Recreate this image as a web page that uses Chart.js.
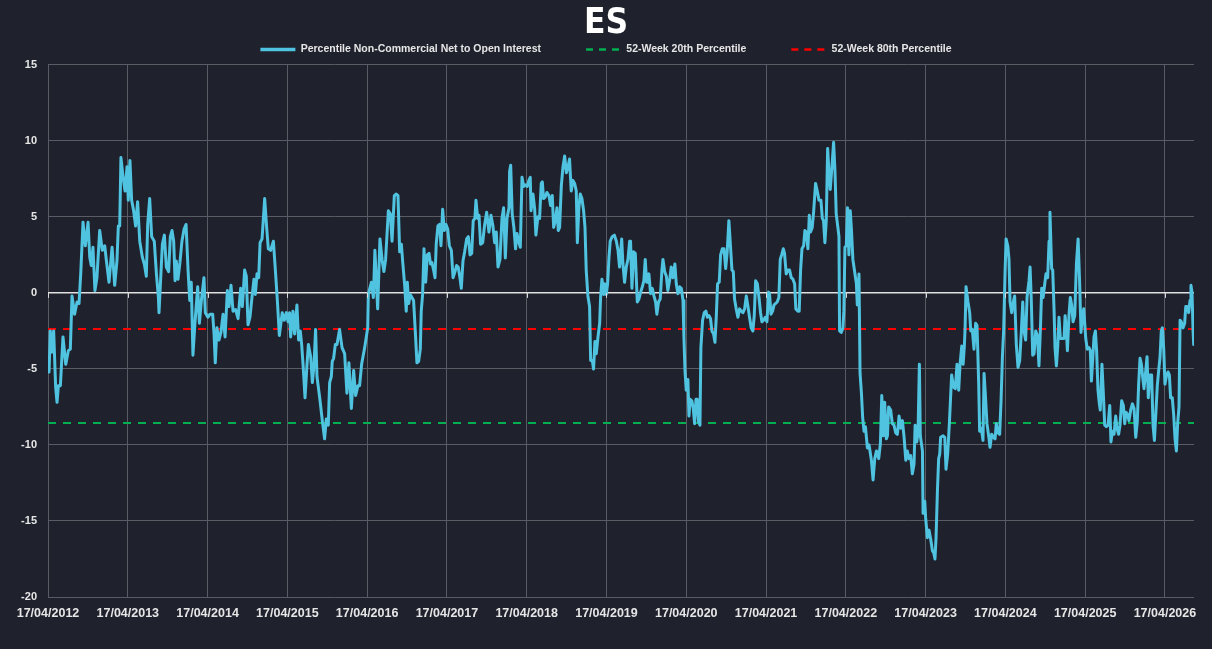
<!DOCTYPE html>
<html>
<head>
<meta charset="utf-8">
<title>ES</title>
<script src="https://cdn.jsdelivr.net/npm/chart.js@4.4.1/dist/chart.umd.min.js"></script>
<style>
  html, body { margin: 0; padding: 0; background: #1f222d; }
  #wrap { width: 1212px; height: 649px; position: relative; }
</style>
</head>
<body>
<div id="wrap"><canvas id="es-chart"></canvas></div>
<script>
// x positions are weeks since 17/04/2012
var weeks = [
  0, 0.7, 1.5, 2.4, 3.7, 5.0, 5.9, 6.8, 8.1, 9.8, 11.6, 13.3, 14.6, 15.7, 17.4, 19.0, 20.3, 21.4, 22.9, 24.4,
  26.2, 27.3, 28.3, 29.4, 30.7, 32.0, 33.8, 35.5, 37.1, 38.2, 39.9, 41.9, 43.6, 45.1, 46.0, 46.9, 47.7, 49.1, 50.4, 51.7,
  52.5, 53.6, 54.7, 56.0, 57.3, 58.6, 60.0, 61.7, 63.0, 64.3, 65.2, 66.5, 67.8, 69.5, 70.9, 72.2, 72.6, 74.8, 76.1,
  77.4, 78.9, 80.0, 81.1, 82.2, 83.1, 83.9, 85.0, 86.3, 87.6, 89.0, 90.3, 91.6, 92.7, 93.7, 94.8, 96.1, 97.9, 99.0, 100.3,
  102.0, 102.9, 104.6, 106.0, 107.7, 108.6, 109.4, 110.5, 111.8, 113.1, 114.5, 115.8, 117.3, 118.4, 119.7, 121.0, 122.7, 124.3, 126.0, 127.1,
  128.6, 129.7, 130.8, 132.1, 133.4, 134.7, 135.6, 136.7, 137.8, 138.7, 140.0, 141.7, 143.0, 144.1, 145.6, 147.4, 148.7, 150.0, 151.3,
  153.2, 154.5, 155.9, 157.0, 158.0, 158.7, 160.2, 161.3, 162.8, 163.9, 165.0, 165.9, 166.8, 168.1, 169.4, 170.3, 171.8, 172.9, 174.0, 175.0,
  175.9, 177.7, 179.4, 180.9, 182.0, 183.3, 184.2, 185.3, 185.9, 186.8, 187.9, 189.0, 190.7, 192.3, 194.0, 195.5, 196.8, 198.4, 199.9, 201.2,
  202.7, 203.8, 205.1, 207.1, 209.1, 209.5, 211.5, 212.8, 213.8, 215.6, 217.1, 218.6, 219.7, 220.8, 222.6, 223.9, 225.0, 226.5,
  227.8, 228.9, 230.0, 231.1, 232.1, 233.2, 234.3, 235.0, 235.9, 236.9, 238.0, 239.1, 240.2, 241.3, 242.4, 243.5, 244.1, 245.0, 245.9, 247.0,
  248.1, 249.2, 250.2, 251.1, 252.2, 253.1, 253.9, 255.0, 256.1, 257.0, 258.1, 259.2, 260.3, 261.4, 262.5, 263.8, 264.9, 266.2, 267.2, 268.3,
  269.4, 270.3, 271.4, 272.5, 273.8, 274.9, 276.0, 277.1, 278.1, 279.2, 279.9, 281.0, 281.9, 282.9, 284.3, 285.6, 286.9, 288.4, 289.7, 291.0,
  292.1, 293.2, 294.3, 295.6, 296.9, 298.0, 299.1, 300.2, 301.5, 301.9,
  302.6, 303.6, 304.7, 305.8, 306.7, 307.8, 308.9, 310.0, 311.1, 312.1, 313.5, 314.5, 315.4, 315.9, 317.2, 318.3, 319.1, 320.4, 321.5, 322.6,
  323.3, 324.1, 325.2, 326.3, 327.6, 328.7, 329.8, 330.7, 331.8, 332.9, 333.7, 334.6, 335.7, 336.8, 337.9, 339.0, 340.1, 341.1, 342.2, 343.3,
  344.4, 345.5, 346.2, 347.2, 348.1, 349.2, 350.3, 351.2, 352.0, 353.1, 354.2, 354.9, 356.0, 356.8, 357.7, 358.6, 359.7, 360.8, 361.4, 362.3,
  363.4, 364.0, 365.1, 366.0, 366.9, 367.7, 369.0, 370.4, 371.7, 372.8, 373.8, 375.2, 376.0, 377.1,
  378.2, 379.3, 380.4, 381.0, 381.9, 383.0, 384.1, 385.4, 386.5, 387.6, 388.7, 389.7, 390.6, 391.5, 392.4, 393.0, 394.1, 395.2, 396.3, 397.4,
  398.2, 399.3, 400.4, 401.5, 402.2, 403.3, 404.4, 405.4, 406.5, 407.6, 408.7, 410.0, 410.9, 412.0, 413.1, 414.2, 415.3, 415.9, 416.6, 417.4,
  418.5, 419.2, 420.0, 421.1, 422.0, 422.9, 423.8, 424.6, 425.5, 426.4, 427.0, 428.1, 429.2, 430.3, 431.2, 432.3, 433.3, 434.2, 435.3, 436.2,
  437.1, 437.9, 439.0, 439.9, 441.0, 442.1, 443.2, 444.2, 445.3, 446.4, 447.3, 448.2, 449.0, 450.1, 451.2, 452.3,
  453.4, 454.5, 455.6, 456.7, 457.8, 458.8, 459.9, 461.0, 461.9, 462.8, 463.9, 465.0, 466.0, 466.9, 468.0, 469.1, 470.2, 471.3, 471.9, 472.8,
  473.9, 474.8, 475.8, 476.9, 478.0, 478.9, 479.8, 480.9, 481.7, 482.8, 483.9, 485.0, 486.1, 487.2, 488.3, 489.1, 490.5, 491.3, 492.2, 493.1,
  494.2, 495.0, 495.9, 497.0, 497.9, 498.7, 499.8, 500.7, 502.0, 503.1, 504.2, 505.5, 506.4, 507.2, 508.1, 509.0, 509.9, 510.7, 511.6, 512.7,
  513.8, 514.7, 515.5, 516.6, 517.3, 517.7, 518.8, 519.9, 520.5, 521.2, 522.1, 522.9, 523.8, 524.7, 525.5, 526.4,
  528.7, 529.3, 530.4, 531.1, 532.0, 532.8, 533.7, 534.6, 535.9, 537.0, 538.5, 539.6, 540.7, 541.8, 543.3, 544.4, 545.3, 546.3, 547.2, 548.3,
  549.0, 549.8, 551.1, 552.2, 553.3, 554.4, 555.5, 556.6, 557.7, 558.8, 559.9, 561.0, 562.0, 563.1, 564.2, 565.3, 566.4, 567.1, 568.2, 569.0,
  569.9, 570.5, 571.9, 572.3, 573.4, 574.0, 575.1, 576.2, 577.3, 578.4, 579.3, 580.1, 580.8, 581.7, 582.5, 583.2, 583.8, 585.4, 586.5, 587.3,
  588.4, 589.5, 590.2, 591.0, 592.3, 593.4, 594.5, 595.6, 596.5, 597.6, 598.5, 599.3, 599.8, 600.4, 601.7, 602.8,
  603.5, 604.5, 605.6, 606.7, 607.6, 608.7, 609.3, 610.4, 611.5, 612.2, 613.0, 614.1, 615.2, 616.1, 617.2, 618.3, 619.4, 620.2, 621.3, 622.4,
  623.3, 624.2, 625.0, 625.9, 626.6, 627.7, 628.5, 629.2, 630.3, 631.1, 632.2, 633.3, 634.4, 635.5, 636.6, 637.5, 638.3, 639.4, 640.3, 641.6,
  642.3, 643.1, 644.0, 644.9, 646.0, 647.1, 648.1, 649.0, 649.9, 650.8, 651.9, 652.7, 653.8, 654.7, 655.3, 656.4, 657.1, 658.0, 658.6, 659.5,
  660.4, 661.2, 662.1, 663.2, 664.5, 665.2, 666.0, 666.7, 667.8, 668.6, 669.5, 670.4, 671.5, 672.6, 673.7, 674.7, 675.6, 676.5, 677.4,
  678.7, 679.7, 680.8, 681.7, 682.4, 683.2, 684.1, 685.0, 685.8, 686.7, 687.6, 688.2, 689.3, 690.2, 691.1, 692.2, 693.3, 694.4, 695.2, 696.1,
  697.2, 698.3, 699.1, 700.2, 701.1, 702.2, 703.3, 704.2, 705.0, 706.1, 707.0, 708.1, 709.2, 710.3, 711.4, 712.4, 713.3, 714.2, 715.1, 715.9,
  716.8, 717.7, 718.8, 719.6, 720.7, 721.8, 722.7, 723.6, 724.4, 725.5, 726.4, 727.3, 728.1, 728.8, 729.7, 730.5, 731.4, 732.5, 733.4, 734.2,
  735.3, 736.2, 737.1, 738.0, 738.8, 739.7, 740.4, 741.2, 742.3, 743.4, 744.1, 745.1, 746.0, 746.9, 747.5, 748.2, 748.9, 749.3
];

var netPercentile = [
  -4.2, -5.2, -2.5, -3.9, -2.5, -6.2, -7.2, -6.1, -6.1, -2.9, -4.7, -3.8, -3.7, -0.2, -1.4, -0.6, -0.7, 1.25, 4.65, 3.1,
  4.65, 2.35, 1.8, 3.0, 0.15, 1.0, 4.1, 2.8, 3.1, 2.1, 0.7, 3.0, 0.5, 2.1, 4.4, 4.4, 8.9, 7.6, 6.7, 8.3,
  6.1, 8.7, 6.1, 5.4, 4.4, 6.0, 3.4, 2.35, 1.9, 1.1, 4.5, 6.2, 3.7, 3.4, 1.25, -0.3, -1.3, 3.2, 3.8,
  1.7, 1.4, 3.7, 4.1, 3.4, 0.8, 2.1, 0.9, 2.0, 3.4, 4.2, 4.5, 1.5, -0.5, 0.7, -4.1, -2.0, 0.4, -2.0, -0.5,
  1.0, -1.3, -1.6, -1.4, -1.4, -2.7, -4.6, -2.3, -3.1, -2.6, -1.4, -2.9, 0.15, -0.9, 0.5, -1.2, -1.1, -1.7, 0.3, -0.9,
  1.5, 1.1, -2.1, -1.6, -0.3, 0.9, -0.1, 1.25, 1.0, 3.3, 3.55, 6.2, 4.3, 2.9, 2.8, 3.4, 1.5, -0.5, -2.8,
  -1.3, -1.8, -1.3, -1.9, -1.3, -2.9, -1.2, -2.7, -0.8, -3.1, -2.5, -3.4, -4.7, -6.9, -4.7, -3.4, -4.2, -5.9, -4.7, -2.4,
  -5.5, -6.9, -8.4, -9.6, -8.3, -8.7, -5.9, -5.5, -4.5, -4.3, -3.4, -3.4, -2.4, -3.6, -4.0, -6.6, -4.6, -7.6, -5.1, -6.75,
  -6.1, -6.1, -4.7, -3.6, -2.3, -0.1, 0.7, -0.3, 2.8, -1.05, 3.55, 2.1, 1.4, 2.2, 5.4, 5.2, 3.4, 6.4,
  6.5, 6.4, 2.7, 3.2, 1.9, 0.6, -1.2, 0.7, -0.7, -0.1, -0.3, -0.5, -2.5, -4.6, -4.5, -3.7, -1.2, -0.1, 2.9, 0.7,
  2.5, 2.6, 1.9, 2.0, 1.5, 1.0, 3.2, 4.4, 4.5, 3.1, 5.5, 4.1, 4.5, 4.2, 3.1, 2.8, 1.0, 1.4, 1.8, 1.7,
  1.0, 0.3, 2.1, 2.7, 3.55, 3.7, 2.5, 2.6, 4.75, 4.9, 6.1, 4.9, 5.1, 3.2, 3.3, 4.5, 5.3, 4.0, 5.1, 4.4,
  3.3, 4.0, 1.7, 2.2, 4.9, 5.6, 2.3, 4.9, 5.6, 8.0,
  8.4, 5.2, 4.3, 2.9, 3.9, 3.4, 3.0, 7.6, 7.0, 7.1, 7.0, 7.4, 7.6, 5.4, 6.5, 5.5, 3.8, 5.0, 4.9, 7.2,
  7.3, 6.2, 6.3, 6.6, 6.4, 5.75, 6.4, 4.3, 4.75, 5.6, 4.1, 4.3, 7.0, 8.3, 9.0, 7.9, 8.3, 8.8, 6.7, 7.4,
  7.2, 6.7, 3.3, 5.6, 6.5, 6.2, 5.4, 4.3, 1.5, -0.2, -0.9, -4.45, -4.45, -5.0, -3.2, -4.0, -2.9, -2.0, -0.3, 0.9,
  -0.1, 0.6, -0.1, 0.6, 2.35, 3.4, 3.7, 3.8, 3.4, 2.8, 1.7, 3.55, 1.9, 0.7,
  1.7, 2.2, 3.4, 3.4, 0.3, 2.7, 2.6, -0.6, -0.4, 0.05, 0.4, 0.8, 2.2, 0.7, 0.7, 1.25, -0.05, 0.3, -0.2, -0.6,
  -1.4, -0.6, -0.4, 1.5, 2.2, 1.4, 1.1, 0.15, 0.8, 1.7, 1.0, 1.9, 0.6, -0.05, 0.4, 0.3, -0.5, -2.9, -5.1, -6.4,
  -5.7, -8.1, -7.0, -7.1, -7.6, -8.6, -7.0, -7.0, -8.5, -8.7, -3.6, -1.8, -1.3, -1.2, -1.6, -1.5, -1.7, -2.5, -2.7, -3.25,
  -1.5, 0.6, 0.7, 2.5, 2.9, 2.9, 1.6, 2.7, 4.75, 3.0, 1.5, 1.4, -0.4, -1.05, -1.6, -1.05,
  -1.2, -1.3, -1.05, -0.2, -0.9, -1.6, -2.3, -2.5, -1.5, 0.8, 0.6, -0.3, -1.3, -1.9, -1.8, -1.6, -1.9, 0.05, -0.05, -1.4,
  -1.2, -0.8, -0.7, -0.6, -0.3, 2.2, 2.5, 2.9, 2.6, 1.25, 1.5, 1.5, 1.0, 0.9, 0.6, -1.05, -1.2, -1.2, 1.5, 2.9,
  3.1, 4.1, 4.0, 2.9, 5.1, 4.0, 4.3, 5.3, 7.2, 6.7, 6.1, 6.1, 4.9, 4.75, 3.3, 4.75, 9.5, 8.0, 6.8, 8.3,
  9.9, 8.0, 5.2, 4.3, 3.7, -2.5, -2.6, -2.3, -1.2, 3.0, 3.1, 5.6, 2.5, 5.4, 4.1, 2.2,
  0.6, -0.8, 1.25, -5.3, -6.6, -8.2, -9.1, -8.8, -10.2, -10.0, -11.0, -12.3, -10.9, -10.4, -10.9, -9.9, -6.75, -9.4, -7.2, -9.6,
  -9.4, -7.5, -7.7, -8.6, -8.7, -9.2, -9.3, -8.1, -8.9, -8.4, -9.5, -11.0, -10.4, -10.9, -10.7, -11.9, -11.25, -8.7, -9.8, -9.2,
  -4.7, -9.4, -10.4, -14.5, -13.7, -14.8, -16.1, -15.6, -16.2, -16.95, -17.1, -17.5, -16.1, -13.0, -10.9, -10.6, -9.5, -9.4, -9.5, -11.6,
  -10.6, -8.6, -7.1, -5.4, -6.2, -6.3, -4.7, -6.4, -4.7, -3.5, -4.7, -3.5, -2.3, 0.4, -0.6, -1.3,
  -2.5, -2.4, -3.7, -2.0, -2.15, -6.0, -9.1, -8.9, -9.7, -5.3, -6.6, -8.6, -9.4, -10.15, -9.3, -9.5, -9.6, -8.6, -9.2, -9.3,
  -7.1, -4.2, -2.5, 1.25, 3.55, 3.1, 2.2, -0.6, -1.3, -0.7, -0.2, -3.4, -4.9, -4.45, -2.5, -0.6, -2.5, -3.1, -0.3, 0.8,
  1.7, -0.5, -4.1, -4.0, -2.5, -2.8, -4.8, -2.5, 0.3, -0.3, 0.6, 1.25, 1.0, 3.4, 5.3, 1.6, 1.5, -1.2, -3.6, -4.8,
  -3.5, -1.6, -3.0, -3.0, -3.0, -1.5, -2.4, -3.8, -1.4, -0.3, -0.8, -1.9, -1.5, 1.9, 3.55, 0.7, -2.6, -1.6, -1.05,
  -3.0, -3.7, -3.6, -3.8, -5.8, -4.45, -2.9, -2.5, -3.8, -6.4, -7.3, -7.7, -4.7, -6.6, -8.7, -8.8, -8.7, -7.4, -9.8, -9.1,
  -9.3, -8.1, -8.9, -9.3, -8.7, -7.1, -7.4, -8.6, -7.85, -8.0, -8.4, -7.7, -7.3, -7.6, -9.5, -8.5, -6.0, -4.3, -4.7, -5.5,
  -6.3, -5.4, -4.2, -6.9, -5.4, -5.4, -8.7, -9.7, -8.2, -6.1, -5.1, -4.2, -2.5, -2.3, -3.7, -6.0, -5.5, -5.2, -5.4, -6.9,
  -6.9, -8.0, -9.6, -10.4, -8.6, -7.5, -1.8, -1.9, -2.3, -2.0, -0.9, -0.9, -1.3, -0.5, 0.5, 0.05, -2.5, -3.4
];

var pct20 = -8.55;   // 52-Week 20th Percentile
var pct80 = -2.37;   // 52-Week 80th Percentile

var tickLabels = ["17/04/2012", "17/04/2013", "17/04/2014", "17/04/2015", "17/04/2016",
  "17/04/2017", "17/04/2018", "17/04/2019", "17/04/2020", "17/04/2021", "17/04/2022",
  "17/04/2023", "17/04/2024", "17/04/2025", "17/04/2026"];
var weeksPerYear = 365.25 / 7;
var xMax = 749.5;

var gridGrey = "#595c63";
var textColor = "#e6e6e6";

var lineData = weeks.map(function (w, i) { return { x: w, y: netPercentile[i] }; });
var flat = function (v) { return [{ x: 0, y: v }, { x: xMax, y: v }]; };

// little white tick marks hanging under the zero line, like the excel axis
var zeroTicks = {
  id: "zeroTicks",
  afterDatasetsDraw: function (chart) {
    var ctx = chart.ctx, xs = chart.scales.x, y0 = chart.scales.y.getPixelForValue(0);
    ctx.save();
    ctx.strokeStyle = "#d9d9d9";
    ctx.lineWidth = 1;
    ctx.beginPath();
    tickLabels.forEach(function (l, i) {
      var px = Math.round(xs.getPixelForValue(i * weeksPerYear)) + 0.5;
      ctx.moveTo(px, y0);
      ctx.lineTo(px, y0 + 5);
    });
    ctx.stroke();
    ctx.restore();
  }
};

new Chart(document.getElementById("es-chart"), {
  type: "line",
  data: {
    datasets: [
      {
        label: "Percentile Non-Commercial Net to Open Interest",
        data: lineData,
        borderColor: "#4fc3e0",
        backgroundColor: "#4fc3e0",
        borderWidth: 3,
        borderJoinStyle: "round",
        pointRadius: 0,
        tension: 0
      },
      {
        label: "52-Week 20th Percentile",
        data: flat(pct20),
        borderColor: "#00b050",
        backgroundColor: "#00b050",
        borderWidth: 2,
        borderDash: [8, 7],
        pointRadius: 0
      },
      {
        label: "52-Week 80th Percentile",
        data: flat(pct80),
        borderColor: "#ff0000",
        backgroundColor: "#ff0000",
        borderWidth: 2,
        borderDash: [8, 7],
        pointRadius: 0
      }
    ]
  },
  options: {
    responsive: true,
    maintainAspectRatio: false,
    animation: false,
    layout: { padding: 0 },
    plugins: {
      title: {
        display: true,
        text: "ES",
        color: "#ffffff",
        font: { family: "'Liberation Sans Narrow', 'DejaVu Sans Condensed', 'Liberation Sans', sans-serif", size: 35, weight: "bold", lineHeight: 0.58 },
        padding: { top: 14, bottom: 0 }
      },
      legend: {
        display: true,
        position: "top",
        labels: {
          color: textColor,
          font: { family: "'Liberation Sans', Arial, sans-serif", size: 10.5, weight: "bold" },
          usePointStyle: true,
          pointStyle: "line",
          pointStyleWidth: 35,
          boxHeight: 10,
          padding: 10,
          generateLabels: function (chart) {
            var items = Chart.defaults.plugins.legend.labels.generateLabels(chart);
            items.forEach(function (it, i) {
              var ds = chart.data.datasets[it.datasetIndex];
              it.pointStyle = "line";
              it.strokeStyle = ds.borderColor;
              it.lineWidth = ds.borderWidth === 3 ? 3.5 : 2.5;
              it.lineDash = ds.borderDash ? [7, 6] : [];
              if (i < items.length - 1) it.text = it.text + "            ";
            });
            return items;
          }
        }
      },
      tooltip: { enabled: false }
    },
    scales: {
      x: {
        type: "linear",
        min: 0,
        max: xMax,
        afterBuildTicks: function (scale) {
          scale.ticks = tickLabels.map(function (l, i) { return { value: i * weeksPerYear }; });
        },
        afterFit: function (scale) { scale.height = 52; },
        ticks: {
          autoSkip: false,
          maxRotation: 0,
          padding: 9,
          color: textColor,
          font: { family: "'Liberation Sans', Arial, sans-serif", size: 12.5, weight: "bold" },
          callback: function (value, index) { return tickLabels[index]; }
        },
        grid: { color: gridGrey, drawTicks: false },
        border: { display: false }
      },
      y: {
        min: -20,
        max: 15,
        afterFit: function (scale) { scale.width = 48; },
        ticks: {
          stepSize: 5,
          padding: 11,
          color: textColor,
          font: { family: "'Liberation Sans', Arial, sans-serif", size: 11, weight: "bold" }
        },
        grid: {
          drawTicks: false,
          color: function (c) { return c.tick && c.tick.value === 0 ? "#e0e0e0" : gridGrey; },
          lineWidth: function (c) { return c.tick && c.tick.value === 0 ? 1.5 : 1; }
        },
        border: { display: false }
      },
      // empty right-hand axis, only there to keep the plot clear of the right edge
      yRight: {
        position: "right",
        afterFit: function (scale) { scale.width = 18; },
        ticks: { display: false },
        grid: { display: false },
        border: { display: false }
      }
    }
  },
  plugins: [zeroTicks]
});
</script>
</body>
</html>
